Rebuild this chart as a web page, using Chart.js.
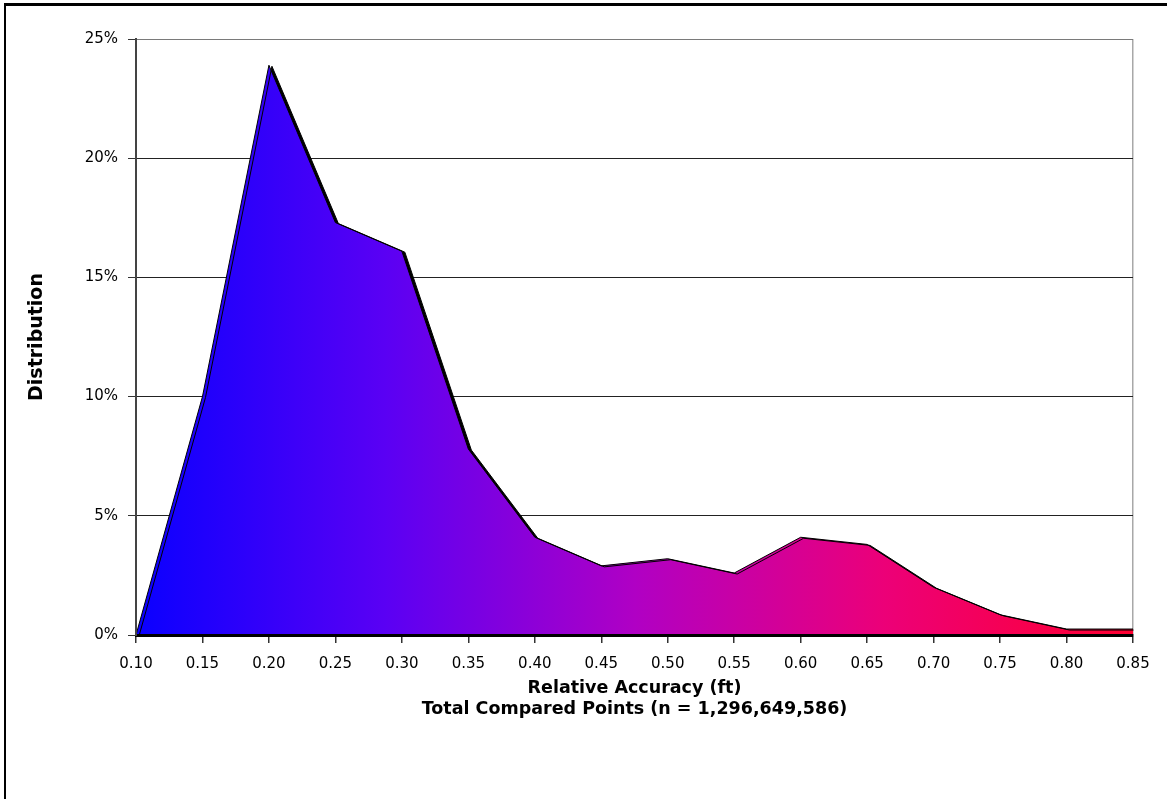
<!DOCTYPE html>
<html>
<head>
<meta charset="utf-8">
<title>Relative Accuracy Distribution</title>
<script src="https://cdn.jsdelivr.net/npm/chart.js@4.4.0/dist/chart.umd.min.js"></script>
<style>
    html, body { margin: 0; padding: 0; background: #fff; }
    #wrap { position: relative; width: 1167px; height: 799px; overflow: hidden; }
    #frame { position: absolute; left: 4px; top: 3px; width: 1300px; height: 900px;
             border-left: 2px solid #000; border-top: 3px solid #000; }
    #chart_distribution { position: absolute; left: 0; top: 0; }
</style>
</head>
<body>
<div id="wrap">
    <div id="frame"></div>
    <canvas id="chart_distribution"></canvas>
</div>
<script>
// relative accuracy bins (ft), x axis
var accuracyLabels = ['0.10', '0.15', '0.20', '0.25', '0.30', '0.35', '0.40', '0.45',
                      '0.50', '0.55', '0.60', '0.65', '0.70', '0.75', '0.80', '0.85'];
// share of compared points in each bin (%)
var distributionValues = [0, 10.0, 23.9, 17.3, 16.1, 7.8, 4.1, 2.9,
                          3.2, 2.6, 4.1, 3.8, 2.0, 0.85, 0.25, 0.25];
var yMin = 0;
var yMax = 25;
var yStep = 5;
var xTitle = ['Relative Accuracy (ft)', 'Total Compared Points (n = 1,296,649,586)'];
var yTitle = 'Distribution';

// Excel-like drop shadow under the area
var areaShadow = {
    id: 'areaShadow',
    beforeDatasetsDraw: function(chart) {
        var ctx = chart.ctx;
        ctx.save();
        ctx.shadowColor = '#000';
        ctx.shadowOffsetX = 3;
        ctx.shadowOffsetY = 1;
        ctx.shadowBlur = 0;
    },
    afterDatasetsDraw: function(chart) {
        chart.ctx.restore();
    }
};

function areaGradient(context) {
    var chart = context.chart;
    var area = chart.chartArea;
    if (!area) return '#8000c0';
    var g = chart.ctx.createLinearGradient(area.left, 0, area.right, 0);
    g.addColorStop(0, '#0a00ff');
    g.addColorStop(0.25, '#5a00f4');
    g.addColorStop(0.5, '#b000c4');
    g.addColorStop(0.75, '#ec0078');
    g.addColorStop(1, '#ff0030');
    return g;
}

var el = document.getElementById('chart_distribution');

var chartDistribution = new Chart(el, {
    type: 'line',
    data: {
        labels: accuracyLabels,
        datasets: [{
            data: distributionValues,
            fill: 'origin',
            backgroundColor: areaGradient,
            borderColor: '#000',
            borderWidth: 1,
            tension: 0,
            pointRadius: 0,
            pointHoverRadius: 0
        }]
    },
    plugins: [areaShadow],
    options: {
        responsive: true,
        maintainAspectRatio: false,
        animation: false,
        layout: { padding: { left: 0, right: 34, top: 39, bottom: 0 } },
        plugins: {
            legend: { display: false },
            tooltip: { enabled: false },
            title: { display: false }
        },
        scales: {
            x: {
                offset: false,
                afterFit: function(scale) { scale.height = 164; },
                grid: {
                    drawOnChartArea: true,
                    color: function(ctx) {
                        return ctx.index === accuracyLabels.length - 1 ? '#a8a8a8' : 'rgba(0,0,0,0)';
                    },
                    tickColor: '#333',
                    tickLength: 8,
                    lineWidth: 1.5
                },
                border: { color: '#000', width: 3, z: 1 },
                ticks: {
                    color: '#000',
                    padding: 12,
                    maxRotation: 0,
                    autoSkip: false,
                    font: { family: 'DejaVu Sans', size: 15 }
                },
                title: {
                    display: true,
                    text: xTitle,
                    color: '#000',
                    font: { family: 'DejaVu Sans', size: 17.5, weight: 'bold', lineHeight: 1.2 },
                    padding: { top: 0, bottom: 79 }
                }
            },
            y: {
                min: yMin,
                max: yMax,
                afterFit: function(scale) { scale.width = 136; },
                grid: {
                    color: function(ctx) {
                        return ctx.tick.value === yMax ? '#7a7a7a' : '#222';
                    },
                    tickColor: '#333',
                    tickLength: 8,
                    lineWidth: 1
                },
                border: { color: '#444', width: 2, z: 1 },
                ticks: {
                    stepSize: yStep,
                    color: '#000',
                    padding: 10,
                    font: { family: 'DejaVu Sans', size: 15 },
                    callback: function(value) { return value + '%'; }
                },
                title: {
                    display: true,
                    text: yTitle,
                    color: '#000',
                    font: { family: 'DejaVu Sans', size: 19, weight: 'bold', lineHeight: 1.2 },
                    padding: { top: 26, bottom: 0 }
                }
            }
        }
    }
});
</script>
</body>
</html>
